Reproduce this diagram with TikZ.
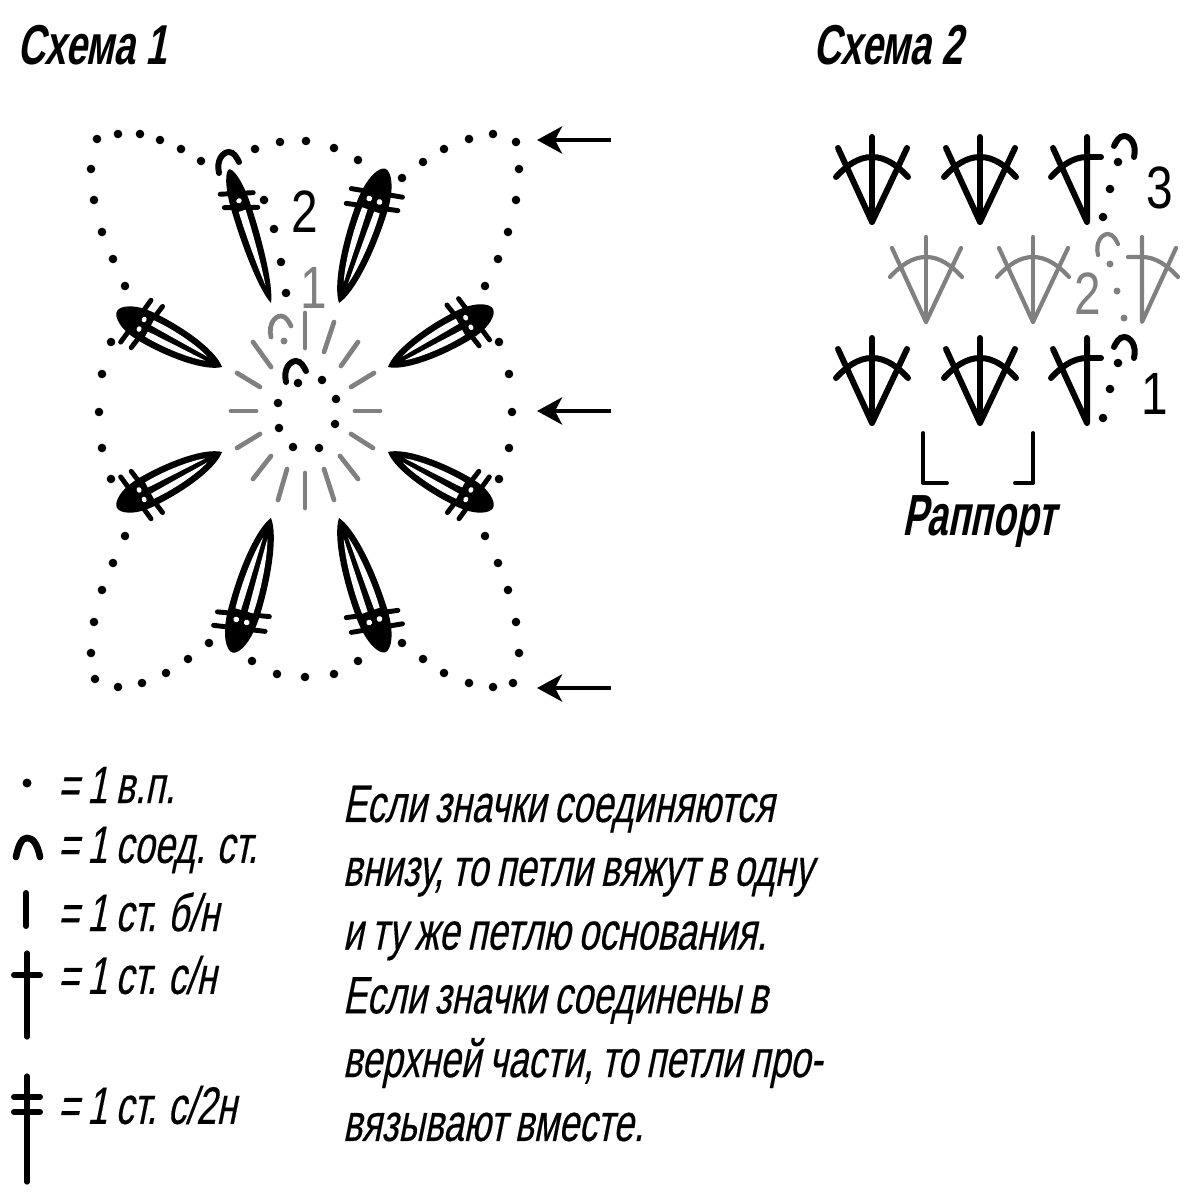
\documentclass[tikz,border=0pt]{standalone}
\usepackage{fontspec}
\setmainfont[FakeStretch=0.69,FakeSlant=0.2,WordSpace=0.8,FakeBold=0.3]{Liberation Sans}
\newfontfamily\digitfont[FakeStretch=0.8]{Liberation Sans}
\newfontfamily\titlefont[FakeStretch=0.68,FakeSlant=0.2]{Liberation Sans}
\newfontfamily\repeatfont[FakeStretch=0.645,FakeSlant=0.2]{Liberation Sans}
\usetikzlibrary{arrows.meta}
\definecolor{fadedgray}{HTML}{808080}
% outline and bars of one petal, length and width come from the scales
\newcommand{\petalbody}{
  \fill (0,0) .. controls (10,34) and (40,54) .. (72,50) .. controls (90,47) and (100,20) .. (100,0)
    .. controls (100,-20) and (90,-47) .. (72,-50) .. controls (40,-54) and (10,-34) .. (0,0) -- cycle;
  \draw[line width=1.4pt,line cap=round] (85,-80) -- (79,80);
  \draw[line width=1.4pt,line cap=round] (75,-80) -- (68,80);
}
\tikzset{
  dot/.style={fill=black},
  petal/.pic={
    \petalbody
    \fill[white] (15,7) .. controls (26,22) and (50,33) .. (69,29) -- (69,11) .. controls (50,9) and (30,8) .. (15,7) -- cycle;
    \fill[white] (15,-7) .. controls (26,-22) and (50,-33) .. (69,-29) -- (69,-11) .. controls (50,-9) and (30,-8) .. (15,-7) -- cycle;
    \fill[white] (76.5,17) ellipse [x radius=2,y radius=9];
    \fill[white] (76.5,-17) ellipse [x radius=2,y radius=9];
  },
  thinpetal/.pic={
    \petalbody
    \fill[white] (13,0) .. controls (30,12) and (50,18) .. (69,18) -- (69,-18) .. controls (50,-18) and (30,-12) .. (13,0) -- cycle;
    \fill[white] (76.5,0) ellipse [x radius=1.8,y radius=14];
  },
  slip/.pic={
    \draw[line cap=round] (0,0) .. controls (-3,-13) and (4,-21) .. (10,-21) .. controls (15,-21) and (18,-15) .. (20,-11);
  },
  fan/.pic={
    \draw[line cap=round,line join=round] (-34,-74) -- (0,0) -- (35,-74);
    \draw[line cap=round] (0,0) -- (0,-85);
    \draw[line cap=round] (-36,-45) .. controls (-26,-56) and (-14,-65) .. (0,-65) .. controls (14,-65) and (26,-56) .. (36,-45);
  },
  halffan/.pic={
    \draw[line cap=round,line join=round] (-34,-74) -- (0,0) -- (0,-85);
    \draw[line cap=round] (-36,-45) .. controls (-26,-56) and (-14,-65) .. (0,-65) -- (14,-65);
  },
  strong/.style={line width=1.7pt},
  faded/.style={line width=1.2pt,draw=fadedgray,text=fadedgray},
  schemetitle/.style={font=\fontsize{16}{18}\selectfont\titlefont\bfseries,inner sep=0pt},
  repeattitle/.style={font=\fontsize{16.5}{18}\selectfont\repeatfont\bfseries,inner sep=0pt},
  numlabel/.style={font=\fontsize{17}{20}\selectfont\digitfont,inner sep=0pt},
  legendtext/.style={font=\fontsize{15}{18}\selectfont,inner sep=0pt,anchor=west},
  notetext/.style={font=\fontsize{15}{18.15}\selectfont,inner sep=0pt,anchor=north west,align=left},
  pointer/.style={line width=1.3pt,-{Stealth[length=2.5mm,width=2.7mm,inset=0.7mm]}}
}
\begin{document}
\begin{tikzpicture}[x=0.1mm,y=-0.1mm]
  \useasboundingbox (0,0) rectangle (1200,1200);
  \node[schemetitle] (title1) at (92,45) {Схема 1};
  \node[schemetitle] (title2) at (888,45) {Схема 2};

  % dots of the square
  \foreach \x/\y in {97/139,118/134,140/134,160/140,181/149,201/161,255/149,280/142,306/141,334/148,358/160,
      402/178,423/162,444/149,469/139,493/134,516/142,519/169,516/200,508/232,498/259,485/286,
      499/342,509/374,512/412,509/448,499/479,485/536,498/563,508/590,516/622,519/653,513/683,
      493/687,469/683,444/673,423/659,402/643,358/661,334/674,305/677,277/674,252/661,
      209/643,188/659,166/673,142/683,118/687,95/679,91/653,94/622,102/590,113/563,125/536,
      111/479,102/448,99/412,102/374,111/342,125/286,113/259,102/232,94/200,91/169,
      264/200,274/229,281/262,286/293,
      298/383,322/380,278/403,336/399,279/428,335/424,293/447,319/448}
    \fill[dot] (\x,\y) circle [radius=4.3];
  \fill[fadedgray] (284,341) circle [radius=3.5];

  % petals
  \foreach \x/\y/\ang/\len/\wid in {339/303/71/142/-32, 388/367/29/120/-32, 222/452/208/119/-32, 271/518/254/140/-32,
      222/367/152/119/32, 388/452/-28/119/32, 339/518/-71/142/32}
    \pic[rotate=\ang,xscale=\len/100,yscale=\wid/100] at (\x,\y) {petal};
  \pic[rotate=107.4,xscale=1.4,yscale=0.2] at (271,303) {thinpetal};

  % short rays
  \begin{scope}[faded,line width=1.35pt,line cap=round]
    \foreach \xa/\ya/\xb/\yb in {334/322/324/352,358/342/341/366,374/373/351/387,380/411/355/411,373/448/351/434,
        358/479/340/456,334/500/324/469,305/508/305/473,278/500/287/469,253/479/271/456,237/448/260/434,
        231/411/256/411,237/373/260/387,253/342/271/367,305/313/305/348}
      \draw (\xa,\ya) -- (\xb,\yb);
  \end{scope}
  \pic[strong] at (219,173) {slip};
  \pic[strong] at (286,382) {slip};
  \pic[faded,line width=1.35pt] at (271,337) {slip};
  \node[numlabel] (round2) at (305,212) {2};
  \node[numlabel,text=fadedgray] (round1) at (314,288) {1};

  % arrows at the right of the square
  \foreach \y/\name in {140/top,411/mid,688/low}{
    \coordinate (tail\name) at (611,\y);
    \coordinate (tip\name) at (537,\y);
    \draw[pointer] (tail\name) -- (tip\name);
  }

  % Scheme 2, rows 3 and 1
  \foreach \y in {222,423}{
    \pic[strong] at (872,\y) {fan};
    \pic[strong] at (980,\y) {fan};
    \pic[strong] at (1087,\y) {halffan};
    \pic[strong,xscale=-1] at (1134,\y-65) {slip};
  }
  \foreach \x/\y in {1118/162,1110/189,1103/217,1118/363,1110/389,1103/418}
    \fill[dot] (\x,\y) circle [radius=4.3];
  \node[numlabel] (row3) at (1160,188) {3};
  \node[numlabel] (row1) at (1155,394) {1};

  % row 2
  \pic[faded] at (926,322) {fan};
  \pic[faded] at (1033,322) {fan};
  \pic[faded,xscale=-1] at (1142,322) {halffan};
  \pic[faded] at (1098,255) {slip};
  \foreach \x/\y in {1110/264,1117/291,1124/318}
    \fill[fadedgray] (\x,\y) circle [radius=3.5];
  \node[numlabel,text=fadedgray] (row2) at (1088,294) {2};

  % repeat bracket
  \draw[line width=1.1pt,line cap=round,line join=round] (923,433) -- (923,483) -- (947,483);
  \draw[line width=1.1pt,line cap=round,line join=round] (1033,433) -- (1033,483) -- (1015,483);
  \node[repeattitle] (repeatlabel) at (979,522) {Раппорт};

  % legend
  \fill[dot] (27,783) circle [radius=4.5];
  \draw[line width=1.9pt,line cap=round] (16,857) .. controls (19,842) and (23,838) .. (27,838) .. controls (32,838) and (37,842) .. (40,857);
  \draw[line width=1.7pt,line cap=round] (26,893) -- (26,926);
  \draw[line width=1.5pt,line cap=round] (27,953) -- (27,1037);
  \draw[line width=1.7pt,line cap=round] (14,975) -- (40,975);
  \draw[line width=1.5pt,line cap=round] (27,1076) -- (27,1182);
  \draw[line width=1.7pt,line cap=round] (14,1097) -- (40,1097);
  \draw[line width=1.7pt,line cap=round] (14,1112) -- (40,1112);
  \node[legendtext] (legend1) at (57,785) {= 1 в.п.};
  \node[legendtext] (legend2) at (57,850) {= 1 соед. ст.};
  \node[legendtext] (legend3) at (57,912) {= 1 ст. б/н};
  \node[legendtext] (legend4) at (57,975) {= 1 ст. с/н};
  \node[legendtext] (legend5) at (57,1105) {= 1 ст. с/2н};

  \node[notetext] (note) at (342,785) {Если значки соединяются\\
    внизу, то петли вяжут в одну\\
    и ту же петлю основания.\\
    Если значки соединены в\\
    верхней части, то петли про-\\
    вязывают вместе.};
\end{tikzpicture}
\end{document}
